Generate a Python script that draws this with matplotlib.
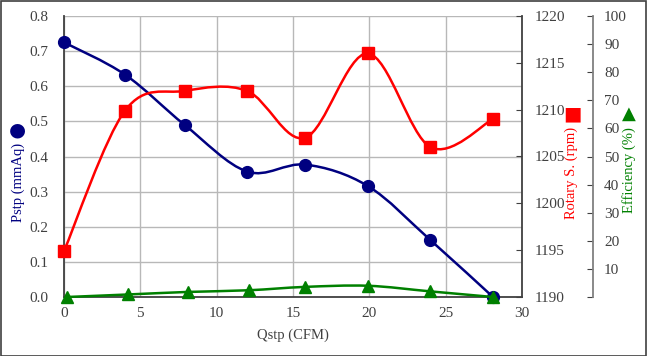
import matplotlib
matplotlib.use("Agg")
import matplotlib.pyplot as plt
import numpy as np
from matplotlib.path import Path
from matplotlib.patches import PathPatch, Rectangle

# data
flow = [0.0, 4.0, 7.9, 12.0, 15.8, 19.9, 24.0, 28.1]          # Qstp (CFM)
flow_eff = [0.2, 4.2, 8.1, 12.1, 15.8, 19.9, 24.0, 28.1]
pstp = [0.725, 0.633, 0.490, 0.357, 0.377, 0.316, 0.162, 0.0]  # mmAq
rpm = [1194.9, 1209.9, 1212.0, 1212.0, 1207.0, 1216.0, 1206.0, 1209.0]
eff = [0.0, 0.9, 1.8, 2.4, 3.6, 4.0, 2.0, 0.0]                 # %

x_ticks = [0, 5, 10, 15, 20, 25, 30]
pstp_ticks = [0.0, 0.1, 0.2, 0.3, 0.4, 0.5, 0.6, 0.7, 0.8]
rpm_ticks = [1190, 1195, 1200, 1205, 1210, 1215, 1220]
eff_ticks = [0, 10, 20, 30, 40, 50, 60, 70, 80, 90, 100]

NAVY = "#000080"
RED = "#ff0000"
GREEN = "#008000"
TXT = "#404040"
FONT = ["Liberation Serif", "DejaVu Serif"]

plt.rcParams["font.family"] = FONT


def smooth_path(xs, ys):
    # Excel-like smoothed line: Bezier segments through the data points
    pts = np.column_stack([xs, ys]).astype(float)
    n = len(pts)
    verts = [pts[0]]
    codes = [Path.MOVETO]
    for i in range(n - 1):
        p0 = pts[max(i - 1, 0)]
        p1 = pts[i]
        p2 = pts[i + 1]
        p3 = pts[min(i + 2, n - 1)]
        verts += [p1 + (p2 - p0) / 6, p2 - (p3 - p1) / 6, p2]
        codes += [Path.CURVE4] * 3
    return Path(verts, codes)


W, H = 647, 356
fig = plt.figure(figsize=(W / 100, H / 100), dpi=100)
left, right, top, bottom = 64, 522, 19, 297
ax = fig.add_axes([left / W, 1 - bottom / H, (right - left) / W, (bottom - top) / H])
ax2 = ax.twinx()
ax3 = ax.twinx()

# main axis (Pstp)
ax.set_xlim(0, 30)
ax.set_ylim(0, 0.8)
ax.set_xticks(x_ticks)
ax.set_yticks(pstp_ticks)
ax.set_yticklabels([f"{v:.1f}" for v in pstp_ticks])
ax.grid(True, color="#b8b8b8", linewidth=1)
ax.set_axisbelow(True)
ax.tick_params(axis="both", length=0, colors=TXT, labelsize=11)
ax.tick_params(axis="y", pad=11)
ax.tick_params(axis="x", pad=7)
for s in ["top", "right"]:
    ax.spines[s].set_visible(False)
for s in ["left", "bottom"]:
    ax.spines[s].set_color(TXT)
    ax.spines[s].set_linewidth(1.3)
ax.set_xlabel("Qstp (CFM)", color=TXT, fontsize=10.5, labelpad=6)

ax.add_patch(PathPatch(smooth_path(flow, pstp), fill=False, edgecolor=NAVY,
                       linewidth=1.8, zorder=3))
ax.plot(flow, pstp, linestyle="none", marker="o", markersize=8.5, color=NAVY,
        zorder=4, clip_on=False)

# rotary speed axis
ax2.set_ylim(1190, 1220)
ax2.set_yticks(rpm_ticks)
ax2.tick_params(axis="y", direction="in", length=4, color=TXT, labelcolor=TXT,
                labelsize=11, pad=9)
for s in ["left", "bottom", "top"]:
    ax2.spines[s].set_visible(False)
ax2.spines["right"].set_color(TXT)
ax2.spines["right"].set_linewidth(1.3)
ax2.add_patch(PathPatch(smooth_path(flow, rpm), fill=False, edgecolor=RED,
                        linewidth=1.8, zorder=3))
ax2.plot(flow, rpm, linestyle="none", marker="s", markersize=8.5, color=RED,
         zorder=4, clip_on=False)

# efficiency axis
ax3.set_ylim(0, 100)
ax3.set_position([left / W, 1 - bottom / H, (right - left) / W, (bottom - 16) / H])
ax3.set_yticks(eff_ticks)
ax3.set_yticklabels(["" if v == 0 else str(v) for v in eff_ticks])
ax3.spines["right"].set_position(("axes", (593 - left) / (right - left)))
for s in ["left", "bottom", "top"]:
    ax3.spines[s].set_visible(False)
ax3.spines["right"].set_color("#808080")
ax3.spines["right"].set_linewidth(1.3)
ax3.tick_params(axis="y", direction="in", length=4, color=TXT, labelcolor=TXT,
                labelsize=11, pad=8)
ax3.set_xlim(0, 30)
ax3.add_patch(PathPatch(smooth_path(flow_eff, eff), fill=False, edgecolor=GREEN,
                        linewidth=1.8, zorder=3, clip_on=False))
ax3.plot(flow_eff, eff, linestyle="none", marker="^", markersize=9, color=GREEN,
         zorder=4, clip_on=False)

# axis titles with their marker symbols
fig.text(18 / W, 1 - 182 / H, "Pstp (mmAq)", rotation=90, color=NAVY,
         fontsize=10.5, ha="center", va="center")
fig.text(17 / W, 1 - 130 / H, "●", color=NAVY, fontsize=14, ha="center",
         va="center", family="DejaVu Sans")
fig.text(571 / W, 1 - 173 / H, "Rotary S. (rpm)", rotation=90, color=RED,
         fontsize=10.5, ha="center", va="center")
fig.text(572 / W, 1 - 114 / H, "■", color=RED, fontsize=14, ha="center",
         va="center", family="DejaVu Sans")
fig.text(629 / W, 1 - 170 / H, "Efficiency (%)", rotation=90, color=GREEN,
         fontsize=10.5, ha="center", va="center")
fig.text(629 / W, 1 - 114 / H, "▲", color=GREEN, fontsize=13, ha="center",
         va="center", family="DejaVu Sans")

# outer frame
fig.add_artist(Rectangle((0.5 / W, 0.5 / H), 1 - 1.5 / W, 1 - 1.5 / H,
                         transform=fig.transFigure, fill=False,
                         edgecolor="#404040", linewidth=1.2))

fig.savefig("out.png", dpi=100)
